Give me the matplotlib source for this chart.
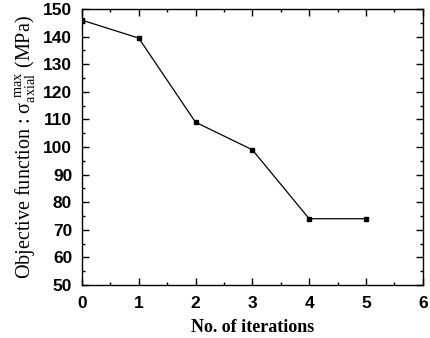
import matplotlib
matplotlib.use('Agg')
import matplotlib.pyplot as plt
from matplotlib.ticker import MultipleLocator

iterations = [0, 1, 2, 3, 4, 5]
sigma_max = [146, 139.5, 109, 99, 74, 74]

plt.rcParams['mathtext.fontset'] = 'custom'
plt.rcParams['mathtext.rm'] = 'Liberation Serif'
plt.rcParams['mathtext.it'] = 'Liberation Serif'

fig = plt.figure(figsize=(4.31, 3.38), dpi=100)
ax = fig.add_axes([0.190, 0.157, 0.791, 0.816])

ax.plot(iterations, sigma_max, color='black', linewidth=0.9,
        marker='s', markersize=2.5)

ax.set_xlim(0, 6)
ax.set_ylim(50, 150)
ax.xaxis.set_major_locator(MultipleLocator(1))
ax.xaxis.set_minor_locator(MultipleLocator(0.5))
ax.yaxis.set_major_locator(MultipleLocator(10))
ax.yaxis.set_minor_locator(MultipleLocator(5))
ax.tick_params(which='both', direction='in', top=True, right=True, width=1)
ax.tick_params(which='major', length=5)
ax.tick_params(which='minor', length=2.5)
ax.tick_params(axis='y', pad=7)
ax.tick_params(axis='x', pad=8)
for lbl in ax.get_xticklabels() + ax.get_yticklabels():
    lbl.set_fontfamily('Liberation Sans')
    lbl.set_fontweight('bold')
    lbl.set_fontsize(12.5)
for s in ax.spines.values():
    s.set_linewidth(1)

ax.set_xlabel('No. of iterations', family='Liberation Serif',
              fontweight='bold', fontsize=13, labelpad=6)
ax.set_ylabel(r'Objective function : $\sigma_{\rm axial}^{\ \rm max}$ (MPa)',
              family='Liberation Serif', fontsize=14.5, labelpad=4)

fig.savefig('out.png', dpi=100)
